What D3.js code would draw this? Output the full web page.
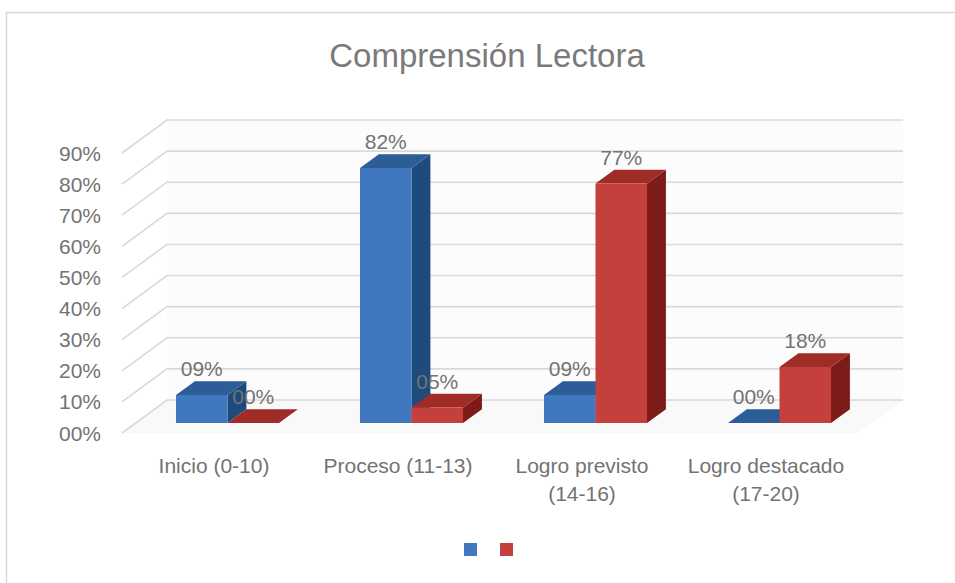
<!DOCTYPE html>
<html><head><meta charset="utf-8">
<script src="https://cdn.jsdelivr.net/npm/d3@7/dist/d3.min.js"></script>
<style>html,body{margin:0;padding:0;background:#fff;}svg{display:block;}</style>
</head><body>
<svg id="chart" width="955" height="583"></svg>
<script>
const title = "Comprensión Lectora";
const categories = [["Inicio (0-10)"], ["Proceso (11-13)"], ["Logro previsto", "(14-16)"], ["Logro destacado", "(17-20)"]];
const seriesNames = ["Serie 1", "Serie 2"];
const serie1 = [0.09, 0.82, 0.09, 0.00];
const serie2 = [0.00, 0.05, 0.77, 0.18];
const yTicks = [0, 0.1, 0.2, 0.3, 0.4, 0.5, 0.6, 0.7, 0.8, 0.9];

const colors = [
  {front: "#4177be", top: "#2d5d97", side: "#1e4b7d"},
  {front: "#c4403d", top: "#a02c28", side: "#7c1b17"}
];
const FONT = "'Liberation Sans', Arial, sans-serif";
const TXT = "#737373";

const svg = d3.select("#chart");

// chart border
svg.append("rect").attr("x", 6.5).attr("y", 12.5).attr("width", 1000).attr("height", 700)
  .attr("fill", "#fff").attr("stroke", "#d9d9d9").attr("stroke-width", 1.5);

// title
svg.append("text").attr("x", 487).attr("y", 67).attr("text-anchor", "middle")
  .attr("font-family", FONT).attr("font-size", 33).attr("fill", "#7a7a7a")
  .text(title);

// 3D geometry
const DX = 45, DY = -33;
const x0 = d3.scaleBand().domain(d3.range(categories.length)).range([122, 858]);
const x1 = d3.scaleBand().domain(d3.range(seriesNames.length)).range([0, x0.bandwidth()]).paddingOuter(0.786);
const y = d3.scaleLinear().domain([0, 0.9]).range([433, 153]);
const P = (xf, v, d) => [xf + DX * d, y(v) + DY * d];
const pts = a => a.map(p => p.join(",")).join(" ");

const xL = 122, xR = 858;
// faint back wall and floor
svg.append("polygon").attr("fill", "#fcfcfc")
  .attr("points", pts([P(xL, 0, 1), P(xR, 0, 1), P(xR, 0.9, 1), P(xL, 0.9, 1)]));
svg.append("polygon").attr("fill", "#f9f9f9")
  .attr("points", pts([P(xL, 0, 0), P(xR, 0, 0), P(xR, 0, 1), P(xL, 0, 1)]));

// gridlines (side diagonal + back wall horizontal)
const grid = svg.append("g").attr("fill", "none").attr("stroke", "#d9d9d9").attr("stroke-width", 1.6);
yTicks.forEach(t => {
  grid.append("polyline").attr("points", pts([P(xL, t, 0), P(xL, t, 1), P(xR, t, 1)]));
});

// y axis labels
svg.append("g").selectAll("text").data(yTicks).join("text")
  .attr("x", 101).attr("y", d => y(d)).attr("dy", "0.36em").attr("text-anchor", "end")
  .attr("font-family", FONT).attr("font-size", 21).attr("fill", TXT)
  .text(d => String(Math.round(d * 100)).padStart(2, "0") + "%");

// bars
const D0 = 0.30, D1 = 0.72;
const series = [serie1, serie2];
const barsG = svg.append("g");
const labels = [];
categories.forEach((c, i) => {
  series.forEach((vals, s) => {
    const v = vals[i];
    const xa = x0(i) + x1(s), xb = xa + x1.bandwidth();
    const col = colors[s];
    const poly = (p, fill) => barsG.append("polygon").attr("fill", fill).attr("points", pts(p));
    poly([P(xb, 0, D0), P(xb, 0, D1), P(xb, v, D1), P(xb, v, D0)], col.side);
    poly([P(xa, v, D0), P(xb, v, D0), P(xb, v, D1), P(xa, v, D1)], col.top);
    if (v > 0) poly([P(xa, 0, D0), P(xb, 0, D0), P(xb, v, D0), P(xa, v, D0)], col.front);
    const f = P((xa + xb) / 2, v, D0);
    labels.push({x: f[0], y: f[1] - 19, t: String(Math.round(v * 100)).padStart(2, "0") + "%"});
  });
});
svg.append("g").selectAll("text").data(labels).join("text")
  .attr("x", d => d.x).attr("y", d => d.y).attr("text-anchor", "middle")
  .attr("font-family", FONT).attr("font-size", 21).attr("fill", TXT)
  .text(d => d.t);

// category labels
const cat = svg.append("g");
categories.forEach((lines, i) => {
  const t = cat.append("text").attr("text-anchor", "middle")
    .attr("font-family", FONT).attr("font-size", 21).attr("fill", TXT);
  lines.forEach((ln, k) => {
    t.append("tspan").attr("x", x0(i) + x0.bandwidth() / 2).attr("y", 473 + k * 28).text(ln);
  });
});

// legend
const legX = d3.scaleOrdinal().domain(d3.range(seriesNames.length)).range([464, 500]);
svg.append("g").selectAll("rect").data(d3.range(seriesNames.length)).join("rect")
  .attr("x", d => legX(d)).attr("y", 543).attr("width", 13).attr("height", 13)
  .attr("fill", d => colors[d].front);
</script>
</body></html>
